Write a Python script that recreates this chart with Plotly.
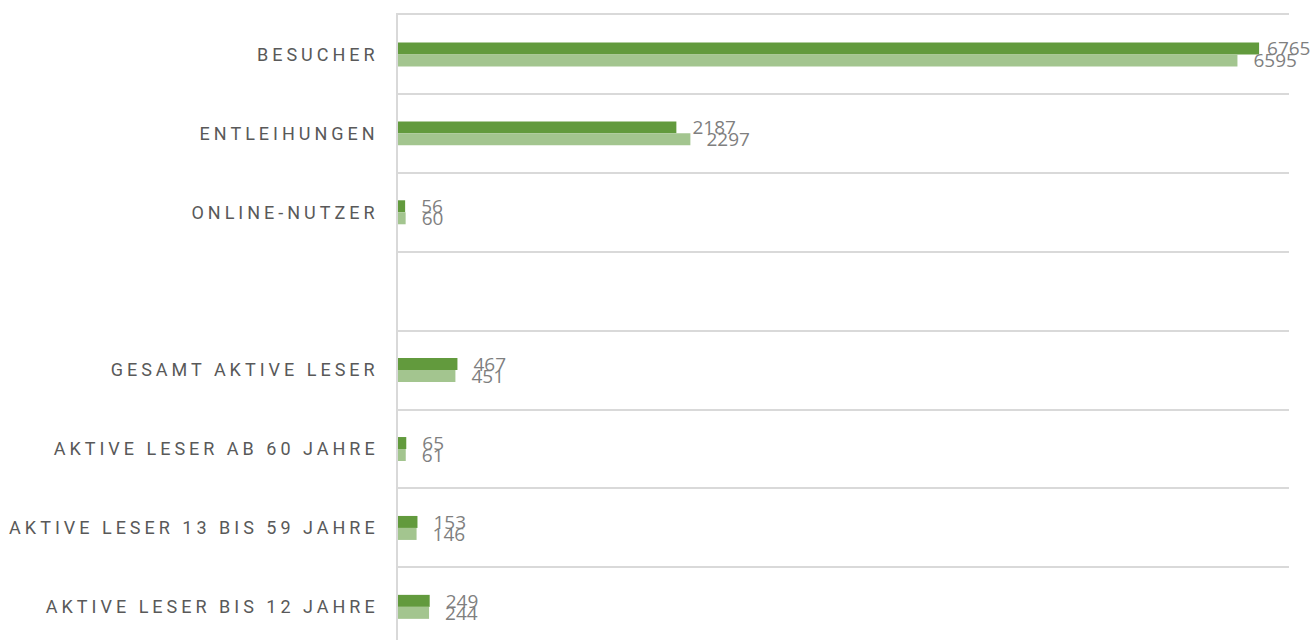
import plotly.graph_objects as go

categories = [
    "BESUCHER",
    "ENTLEIHUNGEN",
    "ONLINE-NUTZER",
    " ",
    "GESAMT AKTIVE LESER",
    "AKTIVE LESER AB 60 JAHRE",
    "AKTIVE LESER 13 BIS 59 JAHRE",
    "AKTIVE LESER BIS 12 JAHRE",
]
series_a = [6765, 2187, 56, None, 467, 65, 153, 249]
series_b = [6595, 2297, 60, None, 451, 61, 146, 244]

dark_green = "#629A3D"
light_green = "#A3C58F"
label_gray = "#7F7F7F"
cat_gray = "#595959"
grid_gray = "#D9D9D9"

X_MAX = 7000

def fmt(vals):
    out = []
    for v in vals:
        if v is None:
            out.append("")
        elif v > 0.96 * X_MAX:
            # keep label inside the canvas, like the original
            out.append("\u00a0" + str(v))
        else:
            out.append("\u00a0\u00a0\u2009" + str(v))
    return out

fig = go.Figure()
for vals, col in ((series_a, dark_green), (series_b, light_green)):
    fig.add_trace(go.Bar(
        y=categories, x=vals, orientation="h",
        marker=dict(color=col, line=dict(width=0)),
        text=fmt(vals), textposition="outside", cliponaxis=False,
        constraintext="none",
        textfont=dict(family="Open Sans", size=19, color=label_gray),
    ))

fig.update_layout(
    width=1312, height=640,
    margin=dict(l=398, r=23, t=15, b=0),
    paper_bgcolor="white", plot_bgcolor="white",
    barmode="group", bargap=0.696, bargroupgap=0,
    showlegend=False,
    xaxis=dict(range=[0, X_MAX], side="top", showgrid=False, zeroline=False,
               showticklabels=False, showline=True, linecolor=grid_gray,
               linewidth=2, ticks=""),
    yaxis=dict(type="category", categoryorder="array", categoryarray=categories,
               range=[7.42, -0.5], tickson="boundaries", showgrid=True,
               gridcolor=grid_gray, gridwidth=2, showline=True,
               linecolor=grid_gray, linewidth=1.5, ticks="",
               ticklabelstandoff=14,
               tickfont=dict(family="Roboto", size=18, color=cat_gray)),
)

post = """
document.body.style.margin='0';
function ls(){document.querySelectorAll('.ytick text').forEach(function(t){t.style.letterSpacing='4px';});}
ls();
var gd=document.getElementById('{plot_id}');
if(gd && gd.on){gd.on('plotly_afterplot', ls);}
"""
fig.write_html("out.html", post_script=post, config={"displayModeBar": False})
